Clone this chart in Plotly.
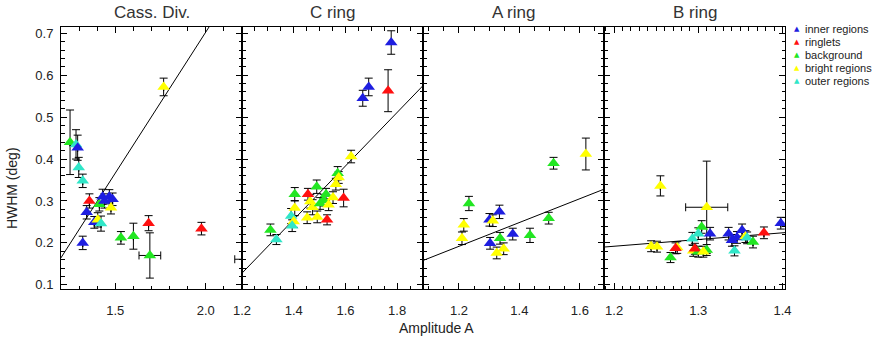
import plotly.graph_objects as go
from plotly.subplots import make_subplots

# ---------------- data ----------------
panel_titles = ["Cass. Div.", "C ring", "A ring", "B ring"]

categories = ["inner regions", "ringlets", "background", "bright regions", "outer regions"]
cat_colors = {"inner regions": "#1e1ee0", "ringlets": "#ff1010", "background": "#22e622",
              "bright regions": "#ffff00", "outer regions": "#30e6c8"}

B, R, G, Y, C = categories

# Cassini Division
cd_x = [1.25, 1.283, 1.292, 1.298, 1.32, 1.357, 1.342, 1.32, 1.412, 1.384, 1.403, 1.421,
        1.43, 1.44, 1.467, 1.485, 1.476, 1.531, 1.6, 1.691, 1.684, 1.767, 1.976, 2.30]
cd_y = [0.44, 0.435, 0.427, 0.38, 0.348, 0.3, 0.273, 0.2, 0.292, 0.249, 0.255, 0.246,
        0.31, 0.3, 0.31, 0.304, 0.284, 0.212, 0.216, 0.17, 0.247, 0.572, 0.234, 0.161]
cd_cat = [G, C, B, C, C, R, B, B, G, B, Y, C, B, B, B, B, Y, G, G, G, R, Y, R, G]
cd_yerr = [0.077, 0.035, 0.03, 0.024, 0.016, 0.017, 0.016, 0.016, 0.016, 0.014, 0.017, 0.018,
           0.018, 0.017, 0.017, 0.015, 0.015, 0.015, 0.031, 0.054, 0.018, 0.021, 0.015, 0.01]
cd_xerr = [None] * 19 + [0.06, None, None, None, 0.14]

# C ring
cr_x = [1.31, 1.333, 1.39, 1.4, 1.394, 1.404, 1.404, 1.452, 1.473, 1.464, 1.455, 1.489, 1.491, 1.502,
        1.516, 1.525, 1.529, 1.535, 1.552, 1.57, 1.574, 1.563, 1.593, 1.622, 1.667, 1.69, 1.765, 1.777]
cr_y = [0.231, 0.208, 0.264, 0.251, 0.241, 0.283, 0.316, 0.26, 0.285, 0.299, 0.316, 0.334, 0.262, 0.294,
        0.302, 0.316, 0.255, 0.291, 0.308, 0.366, 0.356, 0.34, 0.307, 0.406, 0.545, 0.572, 0.563, 0.678]
cr_cat = [G, C, C, Y, C, Y, G, Y, Y, Y, R, G, Y, G, G, G, R, Y, Y, G, Y, Y, R, Y, B, B, R, B]
cr_yerr = [0.014, 0.012, 0.018, 0.014, 0.014, 0.018, 0.016, 0.014, 0.018, 0.016, 0.014, 0.016, 0.014, 0.014,
           0.014, 0.014, 0.012, 0.014, 0.014, 0.016, 0.014, 0.014, 0.021, 0.015, 0.019, 0.021, 0.05, 0.028]

# A ring
ar_x = [1.21, 1.216, 1.233, 1.301, 1.312, 1.334, 1.303, 1.378, 1.336, 1.348, 1.325, 1.435, 1.497, 1.513, 1.62]
ar_y = [0.211, 0.243, 0.294, 0.255, 0.253, 0.274, 0.199, 0.221, 0.211, 0.186, 0.176, 0.218, 0.259, 0.39, 0.412]
ar_cat = [Y, Y, G, B, Y, B, B, B, G, Y, Y, G, G, G, Y]
ar_yerr = [0.015, 0.015, 0.017, 0.015, 0.014, 0.016, 0.014, 0.014, 0.014, 0.014, 0.014, 0.017, 0.014, 0.014, 0.038]

# B ring
br_x = [1.244, 1.251, 1.255, 1.267, 1.275, 1.273, 1.293, 1.304, 1.3, 1.294, 1.3, 1.296, 1.31,
        1.306, 1.314, 1.31, 1.336, 1.34, 1.346, 1.352, 1.343, 1.356, 1.358, 1.365, 1.378, 1.398]
br_y = [0.192, 0.191, 0.336, 0.165, 0.189, 0.187, 0.21, 0.238, 0.222, 0.181, 0.179, 0.186, 0.183,
        0.179, 0.222, 0.285, 0.222, 0.206, 0.213, 0.23, 0.181, 0.215, 0.212, 0.202, 0.224, 0.247]
br_cat = [Y, Y, Y, G, Y, R, C, G, C, Y, G, R, G, Y, B, Y, B, B, B, B, C, Y, C, G, R, B]
br_yerr = [0.013, 0.013, 0.024, 0.012, 0.014, 0.013, 0.015, 0.015, 0.014, 0.013, 0.013, 0.013, 0.013,
           0.013, 0.015, 0.11, 0.015, 0.014, 0.014, 0.015, 0.012, 0.014, 0.014, 0.014, 0.014, 0.014]
br_xerr = [None] * 15 + [0.025] + [None] * 10

# linear fits  HWHM = a + b * A
fit_a = [-0.643, -0.639, -0.149, 0.0]
fit_b = [0.673, 0.639, 0.284, 0.16]

x_ranges = [[1.2, 2.2], [1.2, 1.9], [1.081, 1.68], [1.188, 1.403]]
x_tickvals = [[1.5, 2.0], [1.2, 1.4, 1.6, 1.8], [1.2, 1.4, 1.6], [1.2, 1.3, 1.4]]
x_minor = [0.1, 0.05, 0.05, 0.01]
y_range = [0.09, 0.715]
y_tickvals = [0.1, 0.2, 0.3, 0.4, 0.5, 0.6, 0.7]

panels = [
    (cd_x, cd_y, cd_cat, cd_yerr, cd_xerr),
    (cr_x, cr_y, cr_cat, cr_yerr, None),
    (ar_x, ar_y, ar_cat, ar_yerr, None),
    (br_x, br_y, br_cat, br_yerr, br_xerr),
]

FONT = "Liberation Sans, Arial, sans-serif"

# ---------------- figure ----------------
fig = make_subplots(rows=1, cols=4, shared_yaxes=True, horizontal_spacing=0)

for i, (px, py, pc, pye, pxe) in enumerate(panels):
    col = i + 1
    x0, x1 = x_ranges[i]
    fig.add_trace(go.Scatter(
        x=[x0 - 0.05, x1 + 0.05],
        y=[fit_a[i] + fit_b[i] * (x0 - 0.05), fit_a[i] + fit_b[i] * (x1 + 0.05)],
        mode="lines", line=dict(color="black", width=1), showlegend=False, hoverinfo="skip"),
        row=1, col=col)
    # error bars (under markers)
    tr = dict(
        x=px, y=py, mode="markers",
        marker=dict(size=1, opacity=0),
        error_y=dict(type="data", array=pye, visible=True, color="black", thickness=1, width=4),
        showlegend=False, hoverinfo="skip",
    )
    if pxe is not None:
        tr["error_x"] = dict(type="data", array=pxe, visible=True, color="black", thickness=1, width=4)
    fig.add_trace(go.Scatter(**tr), row=1, col=col)
    # markers on top
    fig.add_trace(go.Scatter(
        x=px, y=py, mode="markers",
        marker=dict(symbol="triangle-up", size=11, color=[cat_colors[c] for c in pc],
                    line=dict(width=0)),
        showlegend=False), row=1, col=col)

    fig.update_xaxes(
        range=x_ranges[i], tickvals=x_tickvals[i],
        ticktext=["%.1f" % v for v in x_tickvals[i]],
        ticks="inside", ticklen=6, tickcolor="black", tickwidth=1,
        minor=dict(dtick=x_minor[i], tick0=1.0, ticks="inside", ticklen=3.5, tickcolor="black"),
        showline=True, linecolor="black", linewidth=1, mirror="allticks",
        showgrid=False, zeroline=False, ticklabelstandoff=9,
        tickfont=dict(family=FONT, size=13, color="#222"),
        row=1, col=col)
    fig.update_yaxes(
        range=y_range, tickvals=y_tickvals, ticktext=["%.1f" % v for v in y_tickvals],
        ticks="inside", ticklen=6, tickcolor="black", tickwidth=1,
        minor=dict(dtick=0.02, tick0=0.0, ticks="inside", ticklen=3.5, tickcolor="black"),
        showline=True, linecolor="black", linewidth=1, mirror="allticks",
        showgrid=False, zeroline=False, showticklabels=(i == 0), ticklabelstandoff=4,
        tickfont=dict(family=FONT, size=13, color="#222"),
        row=1, col=col)

annotations = []
for i, t in enumerate(panel_titles):
    annotations.append(dict(text=t, x=(i + 0.5) / 4, y=1.057, xref="paper", yref="paper",
                            xanchor="center", yanchor="middle", showarrow=False,
                            font=dict(family=FONT, size=17, color="#333")))
annotations.append(dict(text="Amplitude A", x=0.519, y=-0.149, xref="paper", yref="paper",
                        xanchor="center", yanchor="middle", showarrow=False,
                        font=dict(family=FONT, size=14, color="#222")))
annotations.append(dict(text="HWHM (deg)", x=-0.0677, y=0.385, xref="paper", yref="paper",
                        xanchor="center", yanchor="middle", showarrow=False, textangle=-90,
                        font=dict(family=FONT, size=14, color="#222")))
leg_y = [0.992, 0.943, 0.893, 0.844, 0.794]
for k, c in enumerate(categories):
    annotations.append(dict(text="▲", x=1.0166, y=leg_y[k], xref="paper", yref="paper",
                            xanchor="center", yanchor="middle", showarrow=False,
                            font=dict(family="DejaVu Sans", size=7, color=cat_colors[c])))
    annotations.append(dict(text=c, x=1.0245, y=leg_y[k], xref="paper", yref="paper",
                            xanchor="left", yanchor="middle", showarrow=False,
                            font=dict(family=FONT, size=11, color="#222")))

fig.update_layout(
    width=874, height=340,
    margin=dict(l=61, r=89, t=27, b=51),
    paper_bgcolor="white", plot_bgcolor="white",
    annotations=annotations,
    showlegend=False,
)

fig.write_html("out.html", config={"displayModeBar": False},
               post_script="document.body.style.margin='0';document.body.style.overflow='hidden';")
